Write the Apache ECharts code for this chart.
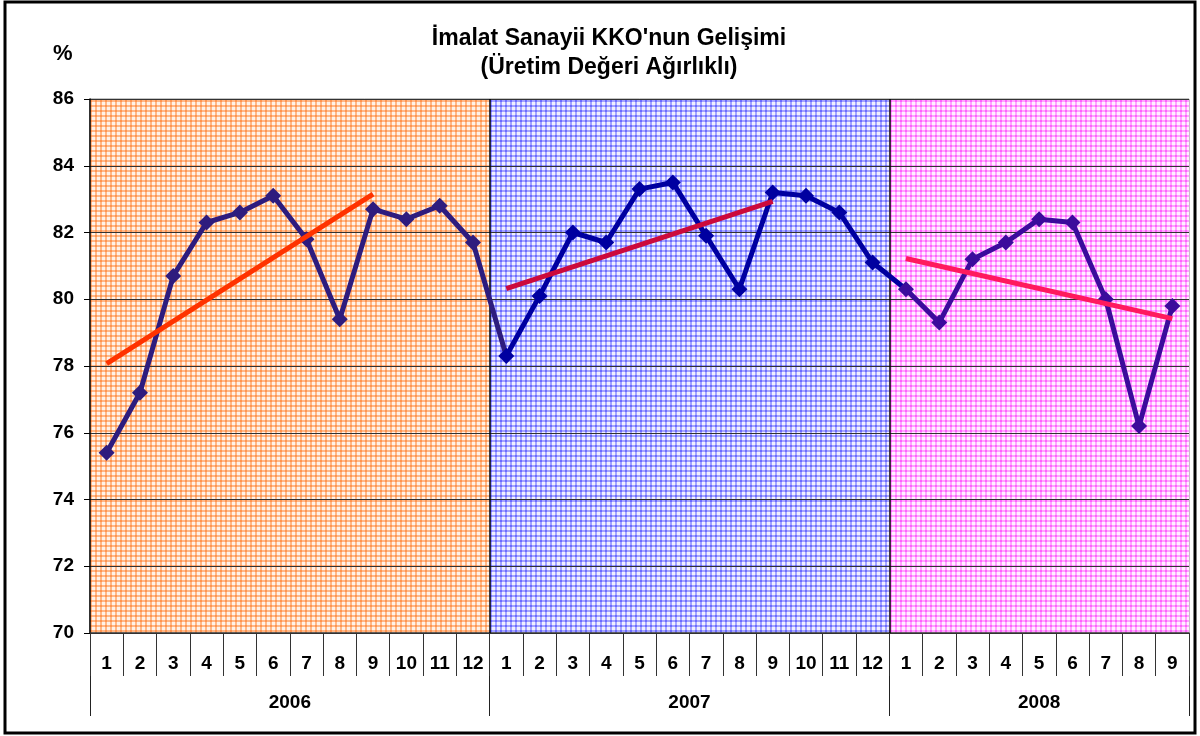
<!DOCTYPE html>
<html>
<head>
<meta charset="utf-8">
<script src="https://cdn.jsdelivr.net/npm/echarts@6/dist/echarts.min.js"></script>
<style>
html,body{margin:0;padding:0;background:#fff;}
#c{width:1200px;height:736px;}
</style>
</head>
<body>
<div id="c"></div>
<script>
// ---------- data ----------
const years = ['2006', '2007', '2008'];
const monthsPerYear = [12, 12, 9];
const categories = ['1','2','3','4','5','6','7','8','9','10','11','12',
                    '1','2','3','4','5','6','7','8','9','10','11','12',
                    '1','2','3','4','5','6','7','8','9'];
const values2006 = [75.4, 77.2, 80.7, 82.3, 82.6, 83.1, 81.8, 79.4, 82.7, 82.4, 82.8, 81.7];
const values2007 = [78.3, 80.1, 82.0, 81.7, 83.3, 83.5, 81.9, 80.3, 83.2, 83.1, 82.6, 81.1];
const values2008 = [80.3, 79.3, 81.2, 81.7, 82.4, 82.3, 80.0, 76.2, 79.8];
// trend lines (first to ninth month of each year)
const trendFromMonth = 1, trendToMonth = 9;
const trendStart = [78.07, 80.32, 81.22];
const trendEnd = [83.15, 82.93, 79.42];
const yTicks = [70, 72, 74, 76, 78, 80, 82, 84, 86];

// ---------- styles ----------
const FONT = '"Liberation Sans", Arial, sans-serif';
const lineColors = ['#2e1c7e', '#0000a0', '#3c0c9c'];
const trendColors = ['#ff3300', '#cc0a3c', '#ff1a5e'];
const patternColors = [
  {base: '#fff2e8', stripe: '#ffb887', inter: '#ff9450'},
  {base: '#f0f0ff', stripe: '#a4a4ff', inter: '#6c6cff'},
  {base: '#fff0ff', stripe: '#ffa4ff', inter: '#ff62ff'}
];
function makePattern(c) {
  const n = 5, cv = document.createElement('canvas');
  cv.width = n; cv.height = n;
  const g = cv.getContext('2d');
  g.fillStyle = c.base; g.fillRect(0, 0, n, n);
  g.fillStyle = c.stripe; g.fillRect(0, 0, 2, n); g.fillRect(0, 0, n, 2);
  g.fillStyle = c.inter; g.fillRect(0, 0, 2, 2);
  return {image: cv, repeat: 'repeat'};
}

const allValues = values2006.concat(values2007, values2008);
const yearStarts = [];
let acc = 0;
monthsPerYear.forEach(m => { yearStarts.push(acc); acc += m; });
const total = acc;

const trendSeries = years.map((y, k) => {
  const arr = categories.map(() => '-');
  arr[yearStarts[k] + trendFromMonth - 1] = trendStart[k];
  arr[yearStarts[k] + trendToMonth - 1] = trendEnd[k];
  return {
    type: 'line', data: arr, connectNulls: true, symbol: 'none', z: 6,
    lineStyle: {color: trendColors[k], width: 5}, silent: true
  };
});

const yearCenters = {};
years.forEach((y, k) => { yearCenters[yearStarts[k] + monthsPerYear[k] / 2] = y; });
const yearBounds = yearStarts.concat([total]);

const chart = echarts.init(document.getElementById('c'));
chart.setOption({
  animation: false,
  backgroundColor: '#fff',
  textStyle: {fontFamily: FONT},
  title: [{
    text: "İmalat Sanayii KKO'nun Gelişimi\n(Üretim Değeri Ağırlıklı)",
    left: 604, top: 19, textAlign: 'center',
    textStyle: {fontSize: 23, fontWeight: 'bold', color: '#000', lineHeight: 29, fontFamily: FONT}
  }, {
    text: '%', left: 48, top: 38,
    textStyle: {fontSize: 22, fontWeight: 'bold', color: '#000', fontFamily: FONT}
  }],
  graphic: [{
    type: 'rect', shape: {x: 5, y: 2, width: 1190, height: 731},
    style: {fill: 'none', stroke: '#000', lineWidth: 3}, z: 100
  }],
  grid: {left: 90, right: 11, top: 99, bottom: 103, show: true,
    borderColor: '#888', borderWidth: 1, backgroundColor: 'transparent'},
  visualMap: {
    type: 'piecewise', show: false, dimension: 0, seriesIndex: 0,
    pieces: [
      {lt: yearStarts[1] - 0.5, color: lineColors[0]},
      {gte: yearStarts[1] - 0.5, lt: yearStarts[2] - 0.5, color: lineColors[1]},
      {gte: yearStarts[2] - 0.5, color: lineColors[2]}
    ]
  },
  xAxis: [{
    type: 'category', data: categories, boundaryGap: true,
    axisLine: {show: true, lineStyle: {color: '#333', width: 1.5}},
    axisTick: {show: true, interval: 0, length: 43, lineStyle: {color: '#333', width: 1}},
    axisLabel: {interval: 0, margin: 21, fontSize: 19, fontWeight: 'bold', color: '#000'},
    splitLine: {show: false}, z: 3
  }, {
    type: 'value', min: 0, max: total, position: 'bottom',
    axisLine: {show: false},
    axisTick: {show: true, customValues: yearBounds, length: 83, lineStyle: {color: '#222', width: 1}},
    axisLabel: {customValues: Object.keys(yearCenters).map(Number), margin: 60,
      fontSize: 19, fontWeight: 'bold', color: '#000',
      formatter: v => yearCenters[v] || ''},
    splitLine: {show: false}
  }],
  yAxis: {
    type: 'value', min: yTicks[0], max: yTicks[yTicks.length - 1], interval: 2,
    axisLine: {show: true, lineStyle: {color: '#000', width: 1.5}},
    axisTick: {show: true, length: 6, lineStyle: {color: '#000'}},
    axisLabel: {margin: 16, fontSize: 19, fontWeight: 'bold', color: '#000'},
    splitLine: {show: true, lineStyle: {color: '#333', width: 1.2}},
    z: 3
  },
  series: [{
    type: 'line', data: allValues, z: 5,
    symbol: 'diamond', symbolSize: 16,
    lineStyle: {width: 5},
    silent: true
  }].concat(trendSeries, [{
    type: 'line', xAxisIndex: 1, data: [], z: 1, silent: true,
    markArea: {
      silent: true, z: 1,
      data: years.map((y, k) => [
        {xAxis: yearBounds[k], itemStyle: {color: makePattern(patternColors[k]), opacity: 1}},
        {xAxis: yearBounds[k + 1]}
      ])
    },
    markLine: {
      silent: true, symbol: 'none', z: 4,
      label: {show: false},
      lineStyle: {color: '#000', width: 1.5, type: 'solid'},
      data: yearBounds.slice(1, -1).map(v => ({xAxis: v}))
    }
  }])
});
</script>
</body>
</html>
